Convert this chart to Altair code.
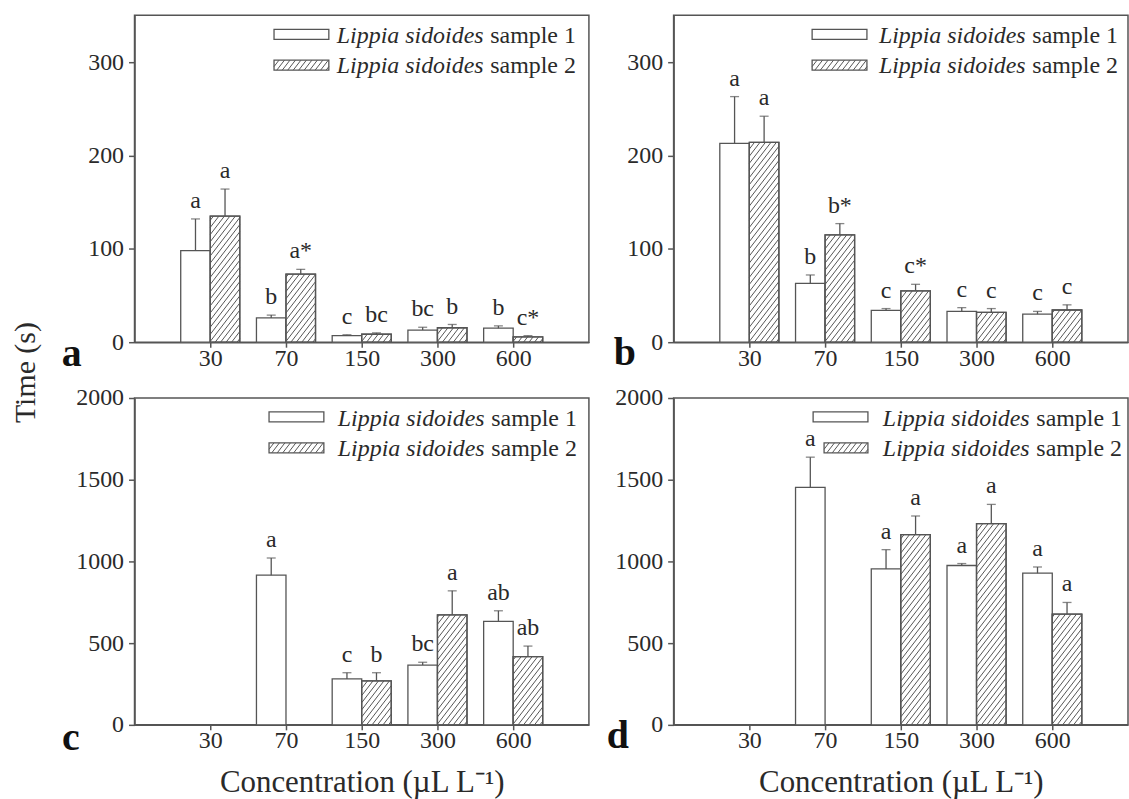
import altair as alt
import pandas as pd

# ---------------- data ----------------
concentrations = ["30", "70", "150", "300", "600"]

# panel a
a_s1_mean = [98, 26, 7, 13, 15]
a_s1_err = [34, 3, 1, 3, 2.5]
a_s2_mean = [135, 73, 8.5, 15.5, 5.7]
a_s2_err = [29, 5, 1.5, 3.5, 1.3]
a_s1_letters = ["a", "b", "c", "bc", "b"]
a_s2_letters = ["a", "a*", "bc", "b", "c*"]

# panel b
b_s1_mean = [213, 63, 34, 33, 30]
b_s1_err = [50, 9, 2, 4, 3]
b_s2_mean = [214, 115, 55, 32, 34.5]
b_s2_err = [28, 12, 7, 4, 5.5]
b_s1_letters = ["a", "b", "c", "c", "c"]
b_s2_letters = ["a", "b*", "c*", "c", "c"]

# panel c
c_s1_mean = [None, 916, 281, 366, 633]
c_s1_err = [None, 105, 38, 17, 65]
c_s2_mean = [None, None, 269, 673, 417]
c_s2_err = [None, None, 50, 147, 65]
c_s1_letters = [None, "a", "c", "bc", "ab"]
c_s2_letters = [None, None, "b", "a", "ab"]

# panel d
d_s1_mean = [None, 1453, 954, 975, 928]
d_s1_err = [None, 185, 118, 12, 38]
d_s2_mean = [None, None, 1164, 1231, 678]
d_s2_err = [None, None, 114, 118, 71]
d_s1_letters = [None, "a", "a", "a", "a"]
d_s2_letters = [None, None, "a", "a", "a"]

series_names = ["Lippia sidoides", "sample 1", "sample 2"]
y_title = "Time (s)"
x_title = "Concentration (µL L⁻¹)"

# ---------------- style / layout ----------------
FONT = "Liberation Serif"
INK = "#2a2a2a"
LINE = "#555555"
W, H = 456, 328
XMAX = 6.0
BAR = 0.39
SLOPE = 1.3
HSPACE = 5.5
FS = 24


def long_table(s1m, s1e, s2m, s2e, l1, l2):
    rows = []
    for i, c in enumerate(concentrations):
        for grp, m, e, lab in ((1, s1m[i], s1e[i], l1[i]), (2, s2m[i], s2e[i], l2[i])):
            if m is None:
                continue
            rows.append(dict(conc=c, pos=i + 1, grp=grp, mean=m, err=e, label=lab))
    return pd.DataFrame(rows)


def hatch(rects, ymax):
    """rects in pixel units (x0, y0 up from baseline, w, h) -> segments in data units"""
    pxu = W / XMAX
    pyu = H / ymax
    step = HSPACE * SLOPE
    segs = []
    for x0, y0, w, h in rects:
        c = -SLOPE * w + step * 0.5
        while c < h:
            t_lo = max(0.0, -c / SLOPE)
            t_hi = min(w, (h - c) / SLOPE)
            if t_hi - t_lo > 0.2:
                segs.append(dict(
                    x=(x0 + t_lo) / pxu, y=(y0 + SLOPE * t_lo + c) / pyu,
                    x2=(x0 + t_hi) / pxu, y2=(y0 + SLOPE * t_hi + c) / pyu))
            c += step
    return pd.DataFrame(segs)


def one_row():
    return pd.DataFrame({"d": [0]})


def panel(df, ymax, yticks, letter, letter_xy, leg_x, text_x, leg_x2=None,
          show_y_title=False, show_x_title=False):
    if leg_x2 is None:
        leg_x2 = leg_x
    leg_end = leg_x + 55
    pxu = W / XMAX
    pyu = H / ymax
    xs = alt.Scale(domain=[0, XMAX], nice=False, zero=False)
    ys = alt.Scale(domain=[0, ymax], nice=False)
    label_expr = "['30','70','150','300','600'][datum.value - 1]"
    common = dict(labelFont=FONT, labelFontSize=FS, labelColor=INK, labelOverlap=False,
                  domainColor=LINE, tickColor=LINE, domainWidth=1.5, tickWidth=1.5, grid=False)
    if show_x_title:
        x_axis = alt.Axis(values=[1, 2, 3, 4, 5], labelExpr=label_expr, title=x_title,
                          titleFont=FONT, titleFontSize=31, titleColor=INK, titleFontWeight="normal",
                          titleX=W / 2, titleY=67, titleBaseline="alphabetic",
                          titleAlign="center", labelFlush=False, tickSize=5, labelPadding=-1,
                          **common)
    else:
        x_axis = alt.Axis(values=[1, 2, 3, 4, 5], labelExpr=label_expr, title=None,
                          labelFlush=False, tickSize=5, labelPadding=-1, **common)
    if show_y_title:
        y_axis = alt.Axis(values=yticks, format="d", title=y_title,
                          titleFont=FONT, titleFontSize=30, titleColor=INK, titleFontWeight="normal",
                          titleX=-100, titleY=358, titleAngle=270, titleBaseline="alphabetic",
                          titleAlign="center", tickSize=6, labelPadding=5, **common)
    else:
        y_axis = alt.Axis(values=yticks, format="d", title=None, tickSize=6, labelPadding=5,
                          **common)

    def X(f):
        return alt.X(f, scale=xs, axis=x_axis)

    def Y(f):
        return alt.Y(f, scale=ys, axis=y_axis)

    base = alt.Chart(df).transform_calculate(
        x0=f"datum.pos + (datum.grp == 1 ? -{BAR} : 0)",
        x1=f"datum.pos + (datum.grp == 1 ? 0 : {BAR})",
        xc=f"datum.pos + (datum.grp == 1 ? -{BAR / 2} : {BAR / 2})",
        top="datum.mean + datum.err",
        zero="0",
    )
    bars = base.mark_bar(fill="white", stroke=LINE, strokeWidth=1.3).encode(
        x=X("x0:Q"), x2="x1:Q", y=Y("mean:Q"), y2="zero:Q",
    )
    s2 = df[df["grp"] == 2]
    rects = [(p * pxu, 0.0, BAR * pxu, m * pyu) for p, m in zip(s2["pos"], s2["mean"])]
    # legend hatched swatch (pixel box inside the plot)
    rects.append((leg_x2, H - 55.0, leg_end - leg_x2, 10.0))
    hdf = hatch(rects, ymax)
    hatches = alt.Chart(hdf).mark_rule(stroke=LINE, strokeWidth=1).encode(
        x=X("x:Q"), y=Y("y:Q"), x2="x2:Q", y2="y2:Q")
    outline = base.transform_filter("datum.grp == 2").mark_bar(
        fill=None, stroke=LINE, strokeWidth=1.3).encode(
        x=X("x0:Q"), x2="x1:Q", y=Y("mean:Q"), y2="zero:Q")
    err = base.mark_rule(stroke=LINE, strokeWidth=1.3).encode(
        x=X("xc:Q"), y=Y("mean:Q"), y2="top:Q")
    cap = base.mark_tick(orient="horizontal", size=9, thickness=1.3, color=LINE).encode(
        x=X("xc:Q"), y=Y("top:Q"))
    labels = base.mark_text(font=FONT, fontSize=FS, color=INK, baseline="alphabetic", dy=-11).encode(
        x=X("xc:Q"), y=Y("top:Q"), text="label:N")

    # legend
    leg1 = alt.Chart(one_row()).mark_rect(fill="white", stroke=LINE, strokeWidth=1.3).encode(
        x=alt.value(leg_x), x2=alt.value(leg_end), y=alt.value(14), y2=alt.value(24))
    leg2 = alt.Chart(one_row()).mark_rect(fill=None, stroke=LINE, strokeWidth=1.3).encode(
        x=alt.value(leg_x2), x2=alt.value(leg_end), y=alt.value(45), y2=alt.value(55))
    texts = []
    for row_y, sname in ((28, series_names[1]), (58, series_names[2])):
        texts.append(alt.Chart(one_row()).mark_text(
            font=FONT, fontSize=FS, fontStyle="italic", color=INK, align="left",
            baseline="alphabetic").encode(
            x=alt.value(text_x), y=alt.value(row_y), text=alt.value(series_names[0])))
        texts.append(alt.Chart(one_row()).mark_text(
            font=FONT, fontSize=FS, color=INK, align="left", baseline="alphabetic").encode(
            x=alt.value(text_x + 154), y=alt.value(row_y), text=alt.value(sname)))
    let = alt.Chart(one_row()).mark_text(
        font=FONT, fontSize=40, fontWeight="bold", color="#111", align="center",
        baseline="alphabetic").encode(
        x=alt.value(letter_xy[0]), y=alt.value(letter_xy[1]), text=alt.value(letter))

    return alt.layer(bars, hatches, outline, err, cap, labels, leg1, leg2,
                     *texts, let).properties(width=W, height=H)


pa = panel(long_table(a_s1_mean, a_s1_err, a_s2_mean, a_s2_err, a_s1_letters, a_s2_letters),
           350, [0, 100, 200, 300], "a", (-63, 352), 140, 203, show_y_title=True)
pb = panel(long_table(b_s1_mean, b_s1_err, b_s2_mean, b_s2_err, b_s1_letters, b_s2_letters),
           350, [0, 100, 200, 300], "b", (-49, 351), 139, 206)
pc = panel(long_table(c_s1_mean, c_s1_err, c_s2_mean, c_s2_err, c_s1_letters, c_s2_letters),
           2000, [0, 500, 1000, 1500, 2000], "c", (-64, 353), 135, 204, show_x_title=True)
pd_ = panel(long_table(d_s1_mean, d_s1_err, d_s2_mean, d_s2_err, d_s1_letters, d_s2_letters),
            2000, [0, 500, 1000, 1500, 2000], "d", (-56, 351), 140, 210, leg_x2=151,
            show_x_title=True)

chart = alt.concat(pa, pb, pc, pd_, columns=2, spacing={"row": 56, "column": 85},
                   bounds="flush").properties(
    padding={"left": 10, "top": 13, "right": 0, "bottom": 0},
).configure_view(
    stroke=LINE, strokeWidth=1.5
)

chart.save("out.html", embed_options={"renderer": "svg", "actions": False})
